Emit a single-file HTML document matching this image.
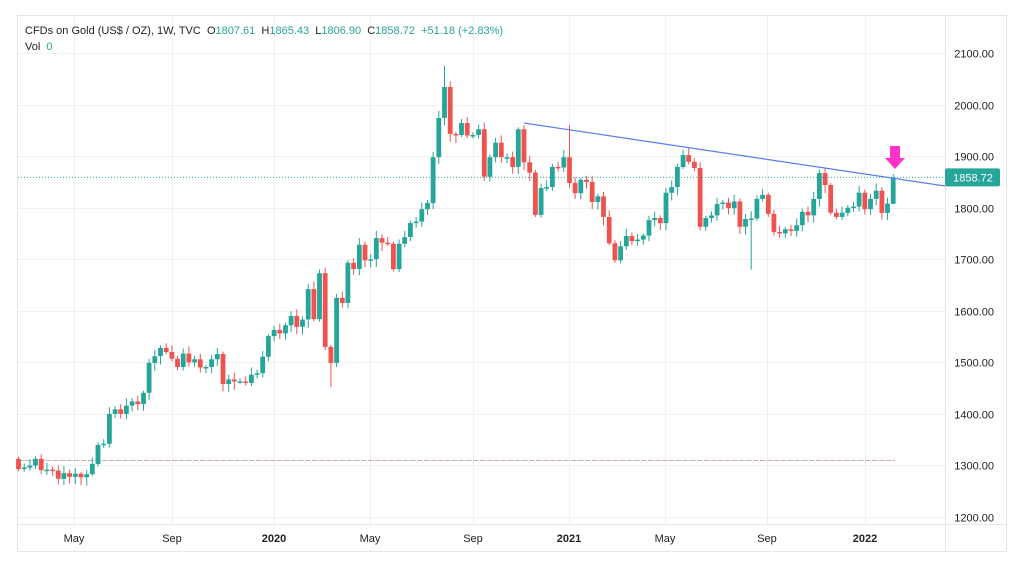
<!DOCTYPE html>
<html><head><meta charset="utf-8"><style>
html,body{margin:0;padding:0;background:#fff;width:1024px;height:574px;overflow:hidden}
svg{display:block;font-family:"Liberation Sans",sans-serif}
</style></head><body>
<svg id="c" width="1024" height="574" xmlns="http://www.w3.org/2000/svg"></svg>
<script>
var s=document.getElementById('c');
var h='';
function Y(p){return 53+(2100-p)*0.5156;}
h+='<rect x="17.5" y="15.5" width="989" height="536" fill="#fff" stroke="#e6e6e6"/>';
h+='<line x1="945.5" y1="15" x2="945.5" y2="551" stroke="#e6e6e6"/>';
h+='<line x1="17" y1="524.5" x2="1006" y2="524.5" stroke="#e6e6e6"/>';
for(var p=1200;p<=2100;p+=100){var y=Math.round(Y(p))+.5;h+='<line x1="18" y1="'+y+'" x2="945" y2="'+y+'" stroke="#f0f0f0"/>';
h+='<text x="994" y="'+(y+4)+'" font-size="11" fill="#222" text-anchor="end">'+p+'.00</text>';}
var ms=[[74,'May',0],[172,'Sep',0],[274,'2020',1],[370,'May',0],[473,'Sep',0],[569,'2021',1],[665,'May',0],[767,'Sep',0],[865,'2022',1]];
ms.forEach(function(m){h+='<line x1="'+(m[0]+.5)+'" y1="16" x2="'+(m[0]+.5)+'" y2="524" stroke="#f0f0f0"/>';
h+='<text x="'+m[0]+'" y="542" font-size="11" fill="#222" text-anchor="middle"'+(m[2]?' font-weight="bold"':'')+'>'+m[1]+'</text>';});
h+='<line x1="18" y1="460.5" x2="895" y2="460.5" stroke="#ef9a9a" stroke-dasharray="4,3"/>';
h+='<line x1="21" y1="460.5" x2="895" y2="460.5" stroke="#80cbc4" stroke-dasharray="3,4" opacity=".7"/>';
var c=[1293,1296,1300,1313,1291,1292,1290,1274,1285,1278,1284,1277,1283,1303,1340,1342,1400,1409,1400,1416,1424,1419,1441,1499,1512,1528,1520,1507,1491,1517,1500,1506,1490,1491,1506,1516,1458,1467,1463,1463,1460,1476,1479,1511,1551,1563,1556,1572,1590,1569,1583,1642,
1584,1673,1530,1499,1625,1615,1693,1681,1728,1698,1700,1741,1732,1730,1681,1730,1743,1770,1773,1797,1809,1898,1974,2034,1943,1941,1964,1940,1941,1952,1860,1898,1926,1898,1898,1879,1952,1888,1868,1786,1838,1840,1879,1878,1898,1848,1828,1854,1850,1811,1822,1782,1731,1698,1725,1745,1735,1738,1746,1776,
1780,1770,1829,1840,1879,1902,1889,1877,1763,1780,1785,1807,1810,1799,1812,1763,1778,1779,1817,1825,1788,1753,1750,1758,1755,1766,1792,1785,1817,1867,1844,1790,1782,1790,1800,1802,1829,1797,1817,1833,1790,1808,1858.72];
var prev=1313;
for(var i=0;i<c.length;i++){
 var o=(i==c.length-1)?1807.61:prev,cl=c[i];var x=18.5+i*5.68;
 var up=cl>=o;var col=up?'#26a69a':'#ef5350';
 var H=Math.max(o,cl)+4+(i*37%11),L=Math.min(o,cl)-4-(i*53%13);
 if(i==75)H=2075; if(i==97)H=1960; if(i==55)L=1452; if(i==129)L=1680; if(i==c.length-1){H=1865.43;L=1806.9;}
 h+='<line x1="'+x.toFixed(1)+'" y1="'+Y(H).toFixed(1)+'" x2="'+x.toFixed(1)+'" y2="'+Y(L).toFixed(1)+'" stroke="'+col+'" stroke-width="1"/>';
 var t=Y(Math.max(o,cl)),b=Y(Math.min(o,cl));if(b-t<1.5)b=t+1.5;
 h+='<rect x="'+(x-2.4).toFixed(1)+'" y="'+t.toFixed(1)+'" width="4.8" height="'+(b-t).toFixed(1)+'" fill="'+col+'"/>';
 prev=cl;}
h+='<line x1="524" y1="123" x2="945" y2="186" stroke="#5b7fe8" stroke-width="1.2"/>';
var yl=Y(1858.72);
h+='<line x1="18" y1="'+yl.toFixed(1)+'" x2="945" y2="'+yl.toFixed(1)+'" stroke="#26a69a" stroke-dasharray="1,2"/>';
h+='<rect x="945" y="'+(yl-9).toFixed(1)+'" width="55" height="18" rx="2" fill="#26a69a"/>';
h+='<text x="973" y="'+(yl+4).toFixed(1)+'" font-size="11" fill="#fff" text-anchor="middle">1858.72</text>';
h+='<polygon points="890,146 900,146 900,158 905,158 895,169 885,158 890,158" fill="#ff33cc"/>';
h+='<text x="25" y="34" font-size="11" fill="#222" style="white-space:pre">CFDs on Gold (US$ / OZ), 1W, TVC  O<tspan fill="#26a69a">1807.61</tspan>  H<tspan fill="#26a69a">1865.43</tspan>  L<tspan fill="#26a69a">1806.90</tspan>  C<tspan fill="#26a69a">1858.72</tspan>  <tspan fill="#26a69a">+51.18 (+2.83%)</tspan></text>';
h+='<text x="25" y="50" font-size="11" fill="#222" style="white-space:pre">Vol  <tspan fill="#26a69a">0</tspan></text>';
s.innerHTML=h;
</script>
</body></html>
